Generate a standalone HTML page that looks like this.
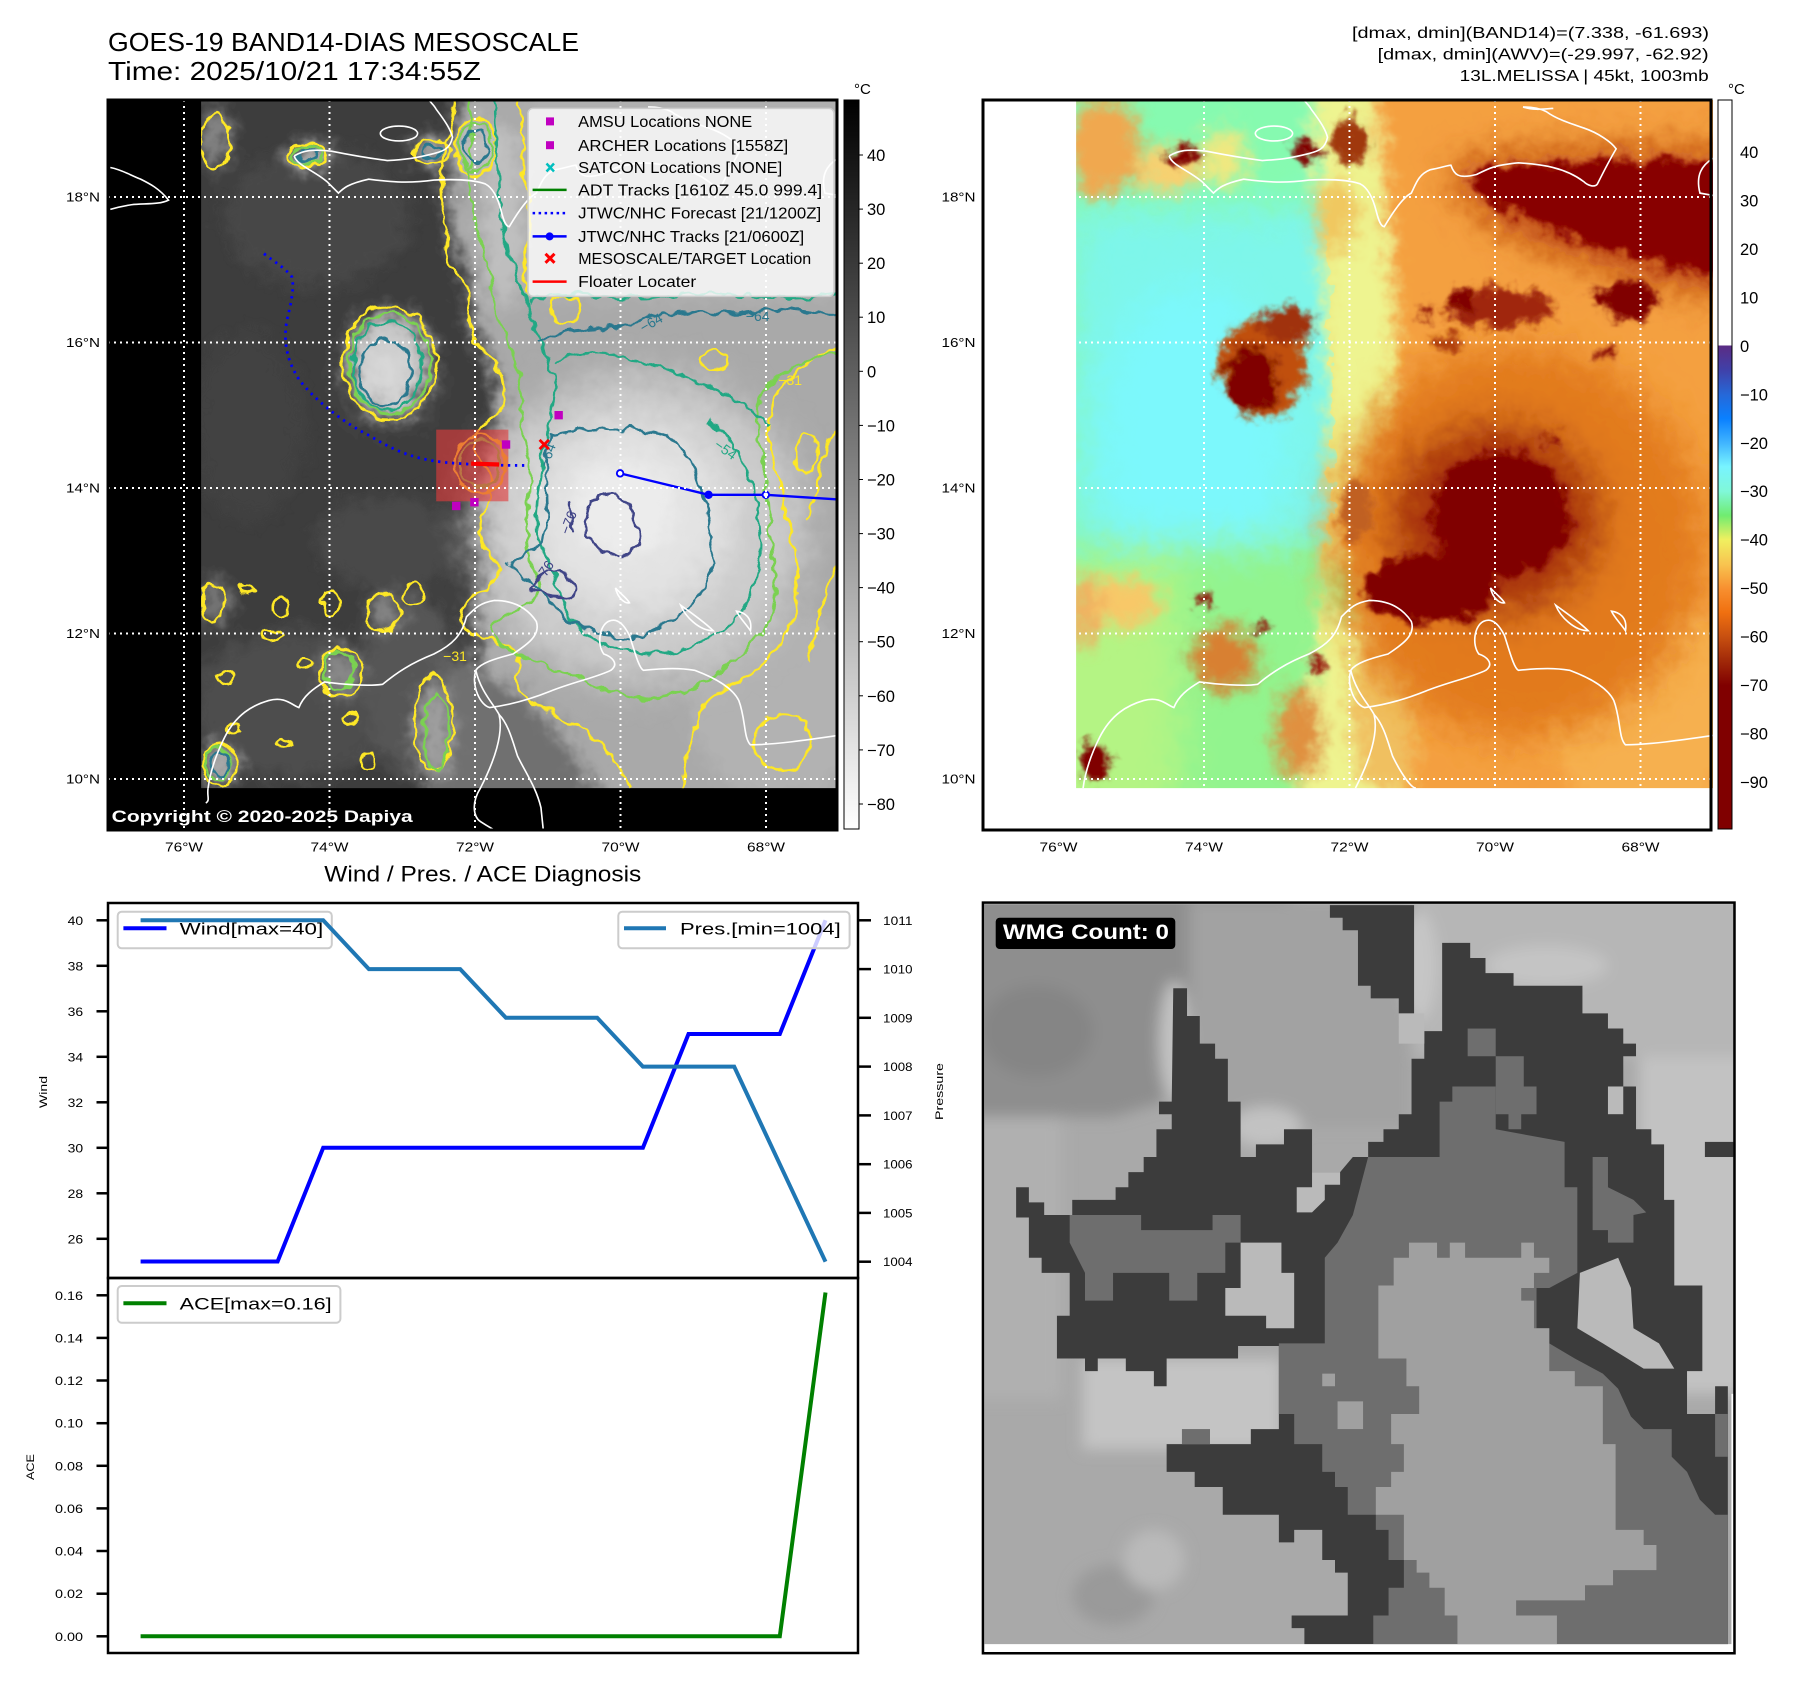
<!DOCTYPE html>
<html><head><meta charset="utf-8">
<style>
body{margin:0;background:#fff}
svg{display:block}
text{font-family:"Liberation Sans","DejaVu Sans",sans-serif;fill:#000}
</style></head>
<body>
<svg xmlns="http://www.w3.org/2000/svg" width="1801" height="1690" viewBox="0 0 1801 1690">
<defs>
  <clipPath id="cData"><rect x="200" y="0" width="1368" height="1478"/></clipPath>
  <clipPath id="cFrame"><rect x="0" y="0" width="1568" height="1568"/></clipPath>
  <clipPath id="cWmg"><path d="M48,28 L1516,28 L1516,1000 L1512,1000 L1512,1497 L48,1497 Z"/></clipPath>
  <filter id="bS" x="-20%" y="-20%" width="140%" height="140%"><feGaussianBlur stdDeviation="8"/></filter>
  <filter id="bM" x="-30%" y="-30%" width="160%" height="160%"><feGaussianBlur stdDeviation="18"/></filter>
  <filter id="bL" x="-40%" y="-40%" width="180%" height="180%"><feGaussianBlur stdDeviation="40"/></filter>
  <filter id="bW" x="-5%" y="-5%" width="110%" height="110%"><feGaussianBlur stdDeviation="14"/></filter>
  <filter id="wig" x="-10%" y="-10%" width="120%" height="120%">
    <feTurbulence type="fractalNoise" baseFrequency="0.035" numOctaves="2" seed="7" result="n"/>
    <feDisplacementMap in="SourceGraphic" in2="n" scale="24" xChannelSelector="R" yChannelSelector="G"/>
  </filter>
  <filter id="mottle" x="-5%" y="-5%" width="110%" height="110%">
    <feTurbulence type="fractalNoise" baseFrequency="0.028" numOctaves="3" seed="3" result="n"/>
    <feDisplacementMap in="SourceGraphic" in2="n" scale="55" xChannelSelector="R" yChannelSelector="G"/>
  </filter>
  <linearGradient id="gGray" x1="0" y1="0" x2="0" y2="1">
    <stop offset="0" stop-color="#000"/><stop offset="1" stop-color="#fff"/>
  </linearGradient>
  <linearGradient id="gAwv" x1="0" y1="0" x2="0" y2="1">
    <stop offset="0" stop-color="#fff"/><stop offset="0.337" stop-color="#fff"/>
    <stop offset="0.337" stop-color="#5b2c84"/><stop offset="0.37" stop-color="#4040a8"/>
    <stop offset="0.404" stop-color="#2668d8"/><stop offset="0.437" stop-color="#0a80ff"/>
    <stop offset="0.47" stop-color="#40b4ff"/><stop offset="0.503" stop-color="#78f4ff"/>
    <stop offset="0.537" stop-color="#80f8d8"/><stop offset="0.57" stop-color="#70ec70"/>
    <stop offset="0.603" stop-color="#f0f060"/><stop offset="0.637" stop-color="#f8c450"/>
    <stop offset="0.67" stop-color="#f89030"/><stop offset="0.703" stop-color="#f07010"/>
    <stop offset="0.736" stop-color="#c85010"/><stop offset="0.77" stop-color="#a02808"/>
    <stop offset="0.803" stop-color="#800000"/><stop offset="1" stop-color="#800000"/>
  </linearGradient>
</defs>
<rect width="1801" height="1690" fill="#fff"/>

<!-- ===== Titles ===== -->
<text x="108" y="51" font-size="26" textLength="471" lengthAdjust="spacingAndGlyphs">GOES-19 BAND14-DIAS MESOSCALE</text>
<text x="108" y="80" font-size="26" textLength="373" lengthAdjust="spacingAndGlyphs">Time: 2025/10/21 17:34:55Z</text>
<text x="1352" y="38" font-size="16" textLength="357" lengthAdjust="spacingAndGlyphs">[dmax, dmin](BAND14)=(7.338, -61.693)</text>
<text x="1377.6" y="59.5" font-size="16" textLength="331" lengthAdjust="spacingAndGlyphs">[dmax, dmin](AWV)=(-29.997, -62.92)</text>
<text x="1459.7" y="81" font-size="16" textLength="249" lengthAdjust="spacingAndGlyphs">13L.MELISSA | 45kt, 1003mb</text>

<!-- ===== LEFT MAP (grayscale) ===== -->
<g transform="translate(108 100) scale(0.46555)">
  <rect x="0" y="0" width="1568" height="1568" fill="#000"/>
  <g clip-path="url(#cData)">
    <g filter="url(#mottle)">
    <rect x="100" y="-100" width="1600" height="1700" fill="#3d3d3d"/>
    <g filter="url(#bM)">
      <ellipse cx="450" cy="250" rx="200" ry="150" fill="#474747"/>
      <ellipse cx="300" cy="700" rx="120" ry="200" fill="#434343"/>
      <ellipse cx="600" cy="950" rx="150" ry="100" fill="#4a4a4a"/>
      <ellipse cx="400" cy="1300" rx="220" ry="160" fill="#4e4e4e"/>
      <ellipse cx="650" cy="1250" rx="100" ry="200" fill="#575757"/>
      <path d="M760,-100 L1700,-100 L1700,1600 L1000,1600 L1000,1478 C950,1400 900,1330 850,1300 C800,1280 780,1200 800,1150 C760,1100 800,1050 850,1000 C830,900 800,850 820,760 C850,680 840,600 800,520 C770,450 780,380 740,300 C720,220 730,100 760,0 Z" fill="#a9a9a9"/>
      <path d="M720,1200 C850,1230 950,1300 1050,1478 L1050,1600 L680,1600 L680,1478 Z" fill="#707070"/>
      <rect x="900" y="-100" width="800" height="530" fill="#b0b0b0"/>
      <ellipse cx="1450" cy="1300" rx="200" ry="200" fill="#b2b2b2"/>
      <ellipse cx="605" cy="565" rx="85" ry="110" fill="#c4c4c4"/>
      <ellipse cx="430" cy="118" rx="38" ry="22" fill="#c8c8c8"/>
      <ellipse cx="695" cy="110" rx="38" ry="22" fill="#c8c8c8"/>
      <ellipse cx="790" cy="100" rx="40" ry="55" fill="#c0c0c0"/>
      <ellipse cx="230" cy="80" rx="30" ry="70" fill="#8a8a8a"/>
      <ellipse cx="240" cy="1430" rx="30" ry="40" fill="#b8b8b8"/>
      <ellipse cx="700" cy="1360" rx="35" ry="100" fill="#a0a0a0"/>
      <ellipse cx="500" cy="1230" rx="40" ry="45" fill="#8a8a8a"/>
      <ellipse cx="595" cy="1100" rx="30" ry="40" fill="#8a8a8a"/>
      <ellipse cx="230" cy="1080" rx="30" ry="50" fill="#7a7a7a"/>
      <ellipse cx="850" cy="250" rx="40" ry="200" fill="#c0c0c0"/>
    </g>
    <g filter="url(#bL)">
      <ellipse cx="1140" cy="920" rx="360" ry="330" fill="#cbcbcb"/>
      <ellipse cx="1120" cy="900" rx="220" ry="210" fill="#e3e3e3"/>
      <ellipse cx="600" cy="590" rx="55" ry="65" fill="#e0e0e0"/>
    </g>
    <ellipse cx="1110" cy="880" rx="110" ry="100" fill="#ececec" filter="url(#bM)"/>
    </g>
    <!-- contours -->
    <g filter="url(#wig)" fill="none" stroke-width="5.5">
      <g stroke="#fde725">
        <path d="M745,0 C740,80 700,150 720,230 C740,300 700,330 760,380 C790,420 760,470 790,520 C830,560 860,600 850,650 C840,690 760,700 790,760 C820,800 830,830 810,880 C790,920 800,960 830,990 C870,1020 800,1050 770,1080 C740,1110 760,1150 820,1160 C870,1170 900,1200 880,1230 C860,1270 920,1300 980,1330 C1060,1370 1100,1420 1120,1478"/>
        <path d="M1568,530 C1500,560 1450,600 1430,650 C1400,720 1440,780 1450,860 C1470,950 1500,1040 1468,1120 C1440,1180 1400,1230 1330,1260 C1260,1290 1250,1380 1230,1478"/>
        <path d="M880,0 C900,60 880,120 900,200 C920,280 880,340 900,420"/>
        <path d="M1568,700 C1520,760 1540,820 1500,900 M1568,1000 C1530,1050 1540,1120 1500,1200"/>
        <ellipse cx="605" cy="565" rx="100" ry="122"/>
        <ellipse cx="430" cy="118" rx="40" ry="26"/>
        <ellipse cx="695" cy="110" rx="40" ry="25"/>
        <ellipse cx="790" cy="100" rx="44" ry="62"/>
        <ellipse cx="230" cy="90" rx="30" ry="60"/>
        <ellipse cx="980" cy="450" rx="30" ry="30"/>
        <ellipse cx="800" cy="780" rx="55" ry="62"/>
        <ellipse cx="225" cy="1080" rx="25" ry="40"/>
        <ellipse cx="250" cy="1240" rx="20" ry="15"/>
        <ellipse cx="370" cy="1090" rx="15" ry="20"/>
        <ellipse cx="480" cy="1080" rx="20" ry="25"/>
        <ellipse cx="590" cy="1100" rx="35" ry="42"/>
        <ellipse cx="500" cy="1230" rx="45" ry="52"/>
        <ellipse cx="700" cy="1340" rx="40" ry="105"/>
        <ellipse cx="240" cy="1430" rx="35" ry="45"/>
        <ellipse cx="520" cy="1330" rx="20" ry="12"/>
        <ellipse cx="350" cy="1150" rx="25" ry="12"/>
        <ellipse cx="420" cy="1210" rx="15" ry="10"/>
        <ellipse cx="300" cy="1050" rx="15" ry="10"/>
        <ellipse cx="655" cy="1060" rx="18" ry="22"/>
        <ellipse cx="270" cy="1350" rx="14" ry="10"/>
        <ellipse cx="380" cy="1380" rx="12" ry="10"/>
        <ellipse cx="560" cy="1420" rx="15" ry="20"/>
        <ellipse cx="1450" cy="1380" rx="60" ry="60"/>
        <ellipse cx="1300" cy="560" rx="30" ry="20"/>
        <ellipse cx="1500" cy="760" rx="25" ry="40"/>
      </g>
      <g stroke="#7ad151">
        <path d="M775,0 C790,100 760,200 800,300 C830,380 820,450 860,520 C900,600 880,700 900,760 C920,850 880,950 920,1020 C950,1080 860,1100 830,1120 C800,1150 880,1200 950,1220 C1050,1250 1100,1300 1200,1280 C1300,1260 1350,1200 1400,1150 C1460,1080 1420,980 1420,900 C1420,800 1380,700 1400,640 C1430,580 1500,560 1568,540"/>
        <ellipse cx="605" cy="565" rx="88" ry="108"/>
        <ellipse cx="495" cy="1225" rx="32" ry="40"/>
        <ellipse cx="705" cy="1360" rx="25" ry="85"/>
        <ellipse cx="235" cy="1425" rx="25" ry="35"/>
        <ellipse cx="800" cy="780" rx="45" ry="50"/>
        <ellipse cx="430" cy="118" rx="32" ry="20"/>
        <ellipse cx="790" cy="100" rx="36" ry="52"/>
      </g>
      <g stroke="#22a884">
        <path d="M830,0 C840,120 830,250 870,360 C900,440 920,500 950,580 C980,640 940,700 935,760 C930,830 900,920 940,980 C980,1040 960,1100 1040,1160 C1120,1200 1240,1200 1320,1140 C1400,1080 1410,980 1395,880 C1380,790 1340,720 1290,690"/>
        <path d="M960,560 C1050,520 1150,560 1250,600 C1320,630 1380,650 1420,700"/>
        <path d="M900,430 C1000,400 1100,440 1200,420 C1300,400 1400,440 1568,420"/>
        <ellipse cx="600" cy="570" rx="75" ry="95"/>
      </g>
      <g stroke="#2a788e">
        <path d="M950,720 C1000,710 1100,695 1200,720 C1260,760 1290,860 1300,960 C1300,1060 1250,1100 1150,1150 C1070,1165 990,1130 950,1080 C920,1040 880,1020 860,1000 C900,980 950,950 945,880 C940,820 940,760 950,720 Z"/>
        <path d="M920,520 C1000,480 1080,500 1150,470 C1250,440 1330,470 1420,450 C1480,440 1530,470 1568,460"/>
        <ellipse cx="595" cy="585" rx="55" ry="70"/>
        <ellipse cx="430" cy="118" rx="22" ry="14"/>
        <ellipse cx="695" cy="110" rx="22" ry="12"/>
        <ellipse cx="790" cy="100" rx="25" ry="35"/>
        <ellipse cx="240" cy="1425" rx="18" ry="25"/>
      </g>
      <g stroke="#414487">
        <path d="M1040,860 C1080,840 1110,850 1120,880 C1140,920 1160,960 1120,975 C1080,980 1040,970 1030,940 C1020,910 1030,880 1040,860 Z"/>
        <path d="M905,1050 C930,1010 960,1000 980,1020 C1000,1040 1020,1060 990,1065 C960,1070 930,1060 905,1050 Z"/>
        <path d="M990,860 C995,880 990,910 1000,930"/>
      </g>
    </g>
    <g font-size="30">
      <text x="1370" y="475" style="fill:#2a788e">−64</text>
      <text x="1150" y="500" style="fill:#2a788e" transform="rotate(-30 1150 500)">−64</text>
      <text x="1300" y="745" style="fill:#22a884" transform="rotate(35 1300 745)">−54</text>
      <text x="990" y="935" style="fill:#414487" transform="rotate(-70 990 935)">−76</text>
      <text x="930" y="1040" style="fill:#414487" transform="rotate(-55 930 1040)">−76</text>
      <text x="945" y="790" style="fill:#2a788e" transform="rotate(-70 945 790)">−64</text>
      <text x="1440" y="612" style="fill:#fde725">−31</text>
      <text x="720" y="1205" style="fill:#fde725">−31</text>
    </g>
  </g>
  <!-- coastlines -->
  <g clip-path="url(#cFrame)" fill="none" stroke="#fff" stroke-width="3.5">
    <path d="M5,145 C30,150 45,160 70,170 C90,180 110,190 130,215 C110,225 80,222 50,225 C30,228 15,232 5,235"/>
    <path d="M400,120 C405,140 440,150 470,175 C480,185 490,195 495,200 C505,190 515,180 560,170 C600,175 640,180 700,172 C740,170 780,170 810,180 C830,190 840,220 845,240 C850,260 855,272 862,272 C875,250 900,210 920,200 C930,180 935,160 960,150 C985,145 1000,140 1005,140 C1012,160 1020,170 1060,160 C1090,145 1100,140 1150,135 C1200,138 1250,145 1290,175 C1300,185 1315,188 1320,180 C1330,160 1345,130 1360,105 C1350,90 1320,70 1290,60 C1260,50 1230,40 1210,25 C1190,15 1170,15 1160,15"/>
    <path d="M400,120 C420,108 440,105 480,110 C520,118 560,125 600,130 C640,128 660,125 700,115 C720,110 735,105 740,80 C735,60 720,40 705,20 C700,10 692,5 690,0"/>
    <ellipse cx="625" cy="72" rx="40" ry="16"/>
    <path d="M1568,125 C1545,140 1530,160 1540,200 L1568,205"/>
    <path d="M215,1478 C220,1440 235,1400 250,1370 C275,1320 310,1300 345,1290 C380,1280 395,1300 410,1305 C420,1280 440,1265 465,1250 C500,1255 560,1260 590,1255 C620,1230 650,1210 700,1190 C740,1170 760,1150 770,1110 C790,1090 800,1080 830,1075 C870,1075 900,1090 920,1120 C930,1150 900,1170 870,1190 C830,1200 800,1210 790,1225 C780,1260 800,1300 820,1305 C860,1300 900,1290 950,1270 C1000,1250 1050,1240 1080,1225 C1100,1210 1080,1195 1065,1190 C1050,1170 1055,1130 1075,1120 C1095,1110 1110,1130 1120,1150 C1130,1180 1140,1220 1150,1225 C1200,1220 1230,1220 1260,1225 C1300,1240 1340,1260 1355,1290 C1370,1330 1365,1370 1380,1385 C1430,1385 1500,1375 1568,1365"/>
    <path d="M215,1478 C212,1495 220,1505 210,1510"/>
    <path d="M790,1225 C800,1270 830,1300 840,1320 C850,1360 830,1420 800,1478 C780,1510 785,1540 800,1550 C815,1560 825,1565 830,1568"/>
    <path d="M840,1320 C860,1340 870,1380 880,1410 C900,1450 920,1478 930,1520 L935,1568"/>
    <path d="M1090,1048 C1100,1060 1115,1070 1120,1080 C1110,1082 1095,1070 1090,1048 Z"/>
    <path d="M1230,1085 C1250,1100 1280,1120 1300,1140 C1270,1140 1240,1110 1230,1085 Z"/>
    <path d="M1350,1098 C1365,1100 1385,1110 1380,1140 C1370,1125 1355,1110 1350,1098 Z"/>
    <path d="M1330,1145 l6,4"/>
  </g>
  <!-- tracks -->
  <rect x="705" y="708" width="155" height="154" fill="rgba(225,60,60,0.62)"/>
  <path d="M335,330 C360,350 380,360 395,380 C400,400 395,430 385,470 C375,520 385,560 410,600 C440,640 500,690 560,720 C610,750 650,770 720,778 C780,784 850,785 900,785" fill="none" stroke="#0000ff" stroke-width="6" stroke-dasharray="5 10"/>
  <line x1="780" y1="781" x2="840" y2="783" stroke="#ff0000" stroke-width="9"/>
  <polyline points="1100,802 1290,848 1413,848 1568,858" fill="none" stroke="#0000ff" stroke-width="5"/>
  <circle cx="1100" cy="802" r="7" fill="#fff" stroke="#0000ff" stroke-width="4"/>
  <circle cx="1290" cy="848" r="9" fill="#0000ff"/>
  <circle cx="1413" cy="848" r="7" fill="#fff" stroke="#0000ff" stroke-width="4"/>
  <g stroke="#ff0000" stroke-width="6"><line x1="927" y1="730" x2="947" y2="750"/><line x1="947" y1="730" x2="927" y2="750"/></g>
  <g fill="#c000c0">
    <rect x="959" y="668" width="18" height="18"/>
    <rect x="846" y="731" width="18" height="18"/>
    <rect x="778" y="855" width="18" height="18"/>
    <rect x="739" y="863" width="18" height="18"/>
  </g>
</g>
<!-- left map gridlines -->
<g stroke="#fff" stroke-width="2" stroke-dasharray="2 4" fill="none">
  <line x1="184" y1="100" x2="184" y2="830"/><line x1="329.5" y1="100" x2="329.5" y2="830"/>
  <line x1="475" y1="100" x2="475" y2="830"/><line x1="620.5" y1="100" x2="620.5" y2="830"/>
  <line x1="766" y1="100" x2="766" y2="830"/>
  <line x1="108" y1="197" x2="837" y2="197"/><line x1="108" y1="342.5" x2="837" y2="342.5"/>
  <line x1="108" y1="488" x2="837" y2="488"/><line x1="108" y1="633.5" x2="837" y2="633.5"/>
  <line x1="108" y1="779" x2="837" y2="779"/>
</g>
<!-- left map legend -->
<rect x="528" y="108.4" width="306" height="188" rx="5" fill="rgba(255,255,255,0.8)" stroke="#cccccc" stroke-width="1.5"/>
<g font-size="16">
  <rect x="546" y="117.4" width="8" height="8" fill="#c000c0"/>
  <text x="578.2" y="127" textLength="174" lengthAdjust="spacingAndGlyphs">AMSU Locations NONE</text>
  <rect x="546" y="141.2" width="8" height="8" fill="#c000c0"/>
  <text x="578.2" y="150.8" textLength="210" lengthAdjust="spacingAndGlyphs">ARCHER Locations [1558Z]</text>
  <g stroke="#00bfbf" stroke-width="2.5"><line x1="546.5" y1="163.5" x2="554" y2="171.5"/><line x1="554" y1="163.5" x2="546.5" y2="171.5"/></g>
  <text x="578.2" y="173.1" textLength="204" lengthAdjust="spacingAndGlyphs">SATCON Locations [NONE]</text>
  <line x1="532.6" y1="189.9" x2="566.6" y2="189.9" stroke="#008000" stroke-width="2.5"/>
  <text x="578.2" y="195.5" textLength="244" lengthAdjust="spacingAndGlyphs">ADT Tracks [1610Z 45.0 999.4]</text>
  <line x1="532.6" y1="213.1" x2="566.6" y2="213.1" stroke="#0000ff" stroke-width="2.5" stroke-dasharray="2.5 3.5"/>
  <text x="578.2" y="218.7" textLength="243" lengthAdjust="spacingAndGlyphs">JTWC/NHC Forecast [21/1200Z]</text>
  <line x1="532.6" y1="236.4" x2="566.6" y2="236.4" stroke="#0000ff" stroke-width="2.5"/>
  <circle cx="549.6" cy="236.4" r="4" fill="#0000ff"/>
  <text x="578.2" y="242" textLength="226" lengthAdjust="spacingAndGlyphs">JTWC/NHC Tracks [21/0600Z]</text>
  <g stroke="#ff0000" stroke-width="3"><line x1="545.5" y1="253.8" x2="554.5" y2="262.8"/><line x1="554.5" y1="253.8" x2="545.5" y2="262.8"/></g>
  <text x="578.2" y="263.9" textLength="233" lengthAdjust="spacingAndGlyphs">MESOSCALE/TARGET Location</text>
  <line x1="532.6" y1="281.6" x2="566.6" y2="281.6" stroke="#ff0000" stroke-width="2.5"/>
  <text x="578.2" y="287.2" textLength="118" lengthAdjust="spacingAndGlyphs">Floater Locater</text>
</g>
<text x="111.7" y="822" font-size="17" font-weight="bold" style="fill:#fff" textLength="301" lengthAdjust="spacingAndGlyphs">Copyright © 2020-2025 Dapiya</text>
<rect x="108" y="100" width="729" height="730" fill="none" stroke="#000" stroke-width="3"/>

<!-- left colorbar -->
<rect x="844" y="100" width="15" height="729" fill="url(#gGray)" stroke="#000" stroke-width="1"/>
<text x="854" y="94" font-size="15">°C</text>
<g font-size="16.5">
  <text x="867" y="161">40</text><text x="867" y="215.1">30</text><text x="867" y="269.2">20</text>
  <text x="867" y="323.2">10</text><text x="867" y="377.3">0</text><text x="867" y="431.4">−10</text>
  <text x="867" y="485.5">−20</text><text x="867" y="539.6">−30</text><text x="867" y="593.6">−40</text>
  <text x="867" y="647.7">−50</text><text x="867" y="701.8">−60</text><text x="867" y="755.9">−70</text>
  <text x="867" y="810">−80</text>
</g>
<g stroke="#000" stroke-width="1">
  <line x1="859" y1="155" x2="863" y2="155"/><line x1="859" y1="209.1" x2="863" y2="209.1"/><line x1="859" y1="263.2" x2="863" y2="263.2"/>
  <line x1="859" y1="317.2" x2="863" y2="317.2"/><line x1="859" y1="371.3" x2="863" y2="371.3"/><line x1="859" y1="425.4" x2="863" y2="425.4"/>
  <line x1="859" y1="479.5" x2="863" y2="479.5"/><line x1="859" y1="533.6" x2="863" y2="533.6"/><line x1="859" y1="587.6" x2="863" y2="587.6"/>
  <line x1="859" y1="641.7" x2="863" y2="641.7"/><line x1="859" y1="695.8" x2="863" y2="695.8"/><line x1="859" y1="749.9" x2="863" y2="749.9"/>
  <line x1="859" y1="804" x2="863" y2="804"/>
</g>
<!-- left map axis labels -->
<g font-size="13">
  <text x="66" y="201.5" textLength="34" lengthAdjust="spacingAndGlyphs">18°N</text>
  <text x="66" y="347" textLength="34" lengthAdjust="spacingAndGlyphs">16°N</text>
  <text x="66" y="492.5" textLength="34" lengthAdjust="spacingAndGlyphs">14°N</text>
  <text x="66" y="638" textLength="34" lengthAdjust="spacingAndGlyphs">12°N</text>
  <text x="66" y="783.5" textLength="34" lengthAdjust="spacingAndGlyphs">10°N</text>
  <text x="165" y="851.5" textLength="38" lengthAdjust="spacingAndGlyphs">76°W</text>
  <text x="310.5" y="851.5" textLength="38" lengthAdjust="spacingAndGlyphs">74°W</text>
  <text x="456" y="851.5" textLength="38" lengthAdjust="spacingAndGlyphs">72°W</text>
  <text x="601.5" y="851.5" textLength="38" lengthAdjust="spacingAndGlyphs">70°W</text>
  <text x="747" y="851.5" textLength="38" lengthAdjust="spacingAndGlyphs">68°W</text>
</g>

<!-- ===== RIGHT MAP (AWV colour) ===== -->
<g transform="translate(983 100) scale(0.46555)">
  <rect x="0" y="0" width="1568" height="1568" fill="#fff"/>
  <g clip-path="url(#cData)">
    <g filter="url(#mottle)">
    <rect x="100" y="-100" width="1600" height="1700" fill="#7ef6ea"/>
    <path d="M730,-100 L1700,-100 L1700,1600 L660,1600 C720,1200 740,1000 750,800 C760,600 730,300 730,-100 Z" fill="#f0de72"/>
    <g filter="url(#bL)">
      <ellipse cx="450" cy="720" rx="200" ry="330" fill="#7cf8fc"/>
      <rect x="100" y="-100" width="650" height="330" fill="#86fab0"/>
      <path d="M100,950 L780,950 L760,1600 L100,1600 Z" fill="#92f48e"/>
      <path d="M100,1000 L420,1000 L420,1600 L100,1600 Z" fill="#b4f484"/>
      <rect x="100" y="200" width="90" height="800" fill="#88f8b0"/>
    </g>
    <g filter="url(#bM)">
      <path d="M700,-100 L880,-100 C860,300 880,500 880,700 C880,900 860,1000 860,1100 L900,1600 L660,1600 C720,1200 735,1000 745,800 C755,600 720,300 700,-100 Z" fill="#eef490"/>
      <path d="M840,-100 L1700,-100 L1700,1600 L930,1600 C900,1350 890,1250 880,1150 C870,1000 870,800 890,600 C890,400 850,200 840,-100 Z" fill="#f4a040"/>
      <ellipse cx="1420" cy="1300" rx="220" ry="240" fill="#f6b050"/>
      <ellipse cx="260" cy="100" rx="80" ry="110" fill="#f0a850"/>
      <ellipse cx="400" cy="150" rx="70" ry="50" fill="#f8d070"/>
      <ellipse cx="520" cy="120" rx="50" ry="60" fill="#f0e880"/>
      <ellipse cx="300" cy="1080" rx="80" ry="50" fill="#f8c868"/>
      <ellipse cx="520" cy="1200" rx="70" ry="70" fill="#d88030"/>
      <ellipse cx="680" cy="1360" rx="50" ry="100" fill="#e09040"/>
      <ellipse cx="220" cy="1100" rx="30" ry="80" fill="#f0b060"/>
      <ellipse cx="820" cy="900" rx="50" ry="80" fill="#e89040"/>
      <ellipse cx="860" cy="1300" rx="70" ry="200" fill="#f0c060"/>
      <ellipse cx="760" cy="250" rx="50" ry="80" fill="#f0c860"/>
      <ellipse cx="780" cy="1050" rx="40" ry="60" fill="#a8f088"/>
    </g>
    <g filter="url(#bL)">
      <ellipse cx="1150" cy="950" rx="400" ry="420" fill="#e27a1c"/>
      <ellipse cx="1100" cy="900" rx="230" ry="210" fill="#a83008"/>
      <path d="M1000,150 C1100,110 1300,110 1700,110 L1700,430 C1450,400 1300,350 1150,290 C1080,250 1030,210 1000,150 Z" fill="#b84010"/>
    </g>
    <g filter="url(#bS)">
      <ellipse cx="1110" cy="890" rx="150" ry="135" fill="#800000"/>
      <ellipse cx="960" cy="1050" rx="140" ry="75" fill="#800000"/>
      <path d="M1040,160 C1120,130 1300,130 1700,130 L1700,390 C1470,370 1330,320 1180,260 C1100,225 1060,200 1040,160 Z" fill="#880400"/>
      <ellipse cx="1390" cy="430" rx="60" ry="42" fill="#800000"/>
      <circle cx="1325" cy="428" r="20" fill="#800000"/>
      <ellipse cx="1110" cy="445" rx="120" ry="42" fill="#a02808"/>
      <ellipse cx="1030" cy="432" rx="30" ry="25" fill="#800000"/>
      <circle cx="950" cy="455" r="13" fill="#800000"/>
      <circle cx="1340" cy="545" r="15" fill="#800000"/>
      <circle cx="1220" cy="730" r="12" fill="#800000"/>
      <ellipse cx="1000" cy="520" rx="30" ry="20" fill="#b04010"/>
      <ellipse cx="600" cy="575" rx="95" ry="105" fill="#c05010"/>
      <ellipse cx="578" cy="600" rx="62" ry="68" fill="#800000"/>
      <ellipse cx="655" cy="482" rx="58" ry="36" fill="#a03010"/>
      <ellipse cx="428" cy="118" rx="32" ry="20" fill="#800000"/>
      <ellipse cx="695" cy="110" rx="36" ry="18" fill="#800000"/>
      <ellipse cx="790" cy="90" rx="40" ry="50" fill="#a03808"/>
      <ellipse cx="240" cy="1420" rx="30" ry="38" fill="#800000"/>
      <circle cx="470" cy="1075" r="15" fill="#900000"/>
      <circle cx="595" cy="1135" r="12" fill="#900000"/>
      <circle cx="720" cy="1210" r="15" fill="#900000"/>
      <ellipse cx="800" cy="880" rx="35" ry="60" fill="#c06020"/>
    </g>
    </g>
  </g>
  <g fill="none" stroke="#fff" stroke-width="3.5">
    <path d="M400,120 C405,140 440,150 470,175 C480,185 490,195 495,200 C505,190 515,180 560,170 C600,175 640,180 700,172 C740,170 780,170 810,180 C830,190 840,220 845,240 C850,260 855,272 862,272 C875,250 900,210 920,200 C930,180 935,160 960,150 C985,145 1000,140 1005,140 C1012,160 1020,170 1060,160 C1090,145 1100,140 1150,135 C1200,138 1250,145 1290,175 C1300,185 1315,188 1320,180 C1330,160 1345,130 1360,105 C1350,90 1320,70 1290,60 C1260,50 1230,40 1210,25 C1190,15 1170,15 1160,15"/>
    <path d="M400,120 C420,108 440,105 480,110 C520,118 560,125 600,130 C640,128 660,125 700,115 C720,110 735,105 740,80 C735,60 720,40 705,20 C700,10 692,5 690,0"/>
    <ellipse cx="625" cy="72" rx="40" ry="16"/>
    <path d="M1568,125 C1545,140 1530,160 1540,200 L1568,205"/>
    <path d="M215,1478 C220,1440 235,1400 250,1370 C275,1320 310,1300 345,1290 C380,1280 395,1300 410,1305 C420,1280 440,1265 465,1250 C500,1255 560,1260 590,1255 C620,1230 650,1210 700,1190 C740,1170 760,1150 770,1110 C790,1090 800,1080 830,1075 C870,1075 900,1090 920,1120 C930,1150 900,1170 870,1190 C830,1200 800,1210 790,1225 C780,1260 800,1300 820,1305 C860,1300 900,1290 950,1270 C1000,1250 1050,1240 1080,1225 C1100,1210 1080,1195 1065,1190 C1050,1170 1055,1130 1075,1120 C1095,1110 1110,1130 1120,1150 C1130,1180 1140,1220 1150,1225 C1200,1220 1230,1220 1260,1225 C1300,1240 1340,1260 1355,1290 C1370,1330 1365,1370 1380,1385 C1430,1385 1500,1375 1568,1365"/>
    <path d="M790,1225 C800,1270 830,1300 840,1320 C850,1360 830,1420 800,1478"/>
    <path d="M840,1320 C860,1340 870,1380 880,1410 C900,1450 920,1478 930,1478"/>
    <path d="M1090,1048 C1100,1060 1115,1070 1120,1080 C1110,1082 1095,1070 1090,1048 Z"/>
    <path d="M1230,1085 C1250,1100 1280,1120 1300,1140 C1270,1140 1240,1110 1230,1085 Z"/>
    <path d="M1350,1098 C1365,1100 1385,1110 1380,1140 C1370,1125 1355,1110 1350,1098 Z"/>
    <path d="M1160,15 C1180,22 1200,20 1225,18"/>
  </g>
</g>
<g stroke="#fff" stroke-width="2" stroke-dasharray="2 4" fill="none">
  <line x1="1058.5" y1="100" x2="1058.5" y2="830"/><line x1="1204" y1="100" x2="1204" y2="830"/>
  <line x1="1349.5" y1="100" x2="1349.5" y2="830"/><line x1="1495" y1="100" x2="1495" y2="830"/>
  <line x1="1640.5" y1="100" x2="1640.5" y2="830"/>
  <line x1="983" y1="197" x2="1711" y2="197"/><line x1="983" y1="342.5" x2="1711" y2="342.5"/>
  <line x1="983" y1="488" x2="1711" y2="488"/><line x1="983" y1="633.5" x2="1711" y2="633.5"/>
  <line x1="983" y1="779" x2="1711" y2="779"/>
</g>
<rect x="983" y="100" width="728" height="730" fill="none" stroke="#000" stroke-width="3"/>
<!-- right colorbar -->
<rect x="1718" y="100" width="14" height="729" fill="url(#gAwv)" stroke="#000" stroke-width="1"/>
<text x="1728" y="94" font-size="15">°C</text>
<g font-size="16.5">
  <text x="1740" y="158">40</text><text x="1740" y="206.5">30</text><text x="1740" y="254.9">20</text>
  <text x="1740" y="303.4">10</text><text x="1740" y="351.8">0</text><text x="1740" y="400.3">−10</text>
  <text x="1740" y="448.8">−20</text><text x="1740" y="497.2">−30</text><text x="1740" y="545.7">−40</text>
  <text x="1740" y="594.1">−50</text><text x="1740" y="642.6">−60</text><text x="1740" y="691.1">−70</text>
  <text x="1740" y="739.5">−80</text><text x="1740" y="788">−90</text>
</g>
<g font-size="13">
  <text x="941.5" y="201.5" textLength="34" lengthAdjust="spacingAndGlyphs">18°N</text>
  <text x="941.5" y="347" textLength="34" lengthAdjust="spacingAndGlyphs">16°N</text>
  <text x="941.5" y="492.5" textLength="34" lengthAdjust="spacingAndGlyphs">14°N</text>
  <text x="941.5" y="638" textLength="34" lengthAdjust="spacingAndGlyphs">12°N</text>
  <text x="941.5" y="783.5" textLength="34" lengthAdjust="spacingAndGlyphs">10°N</text>
  <text x="1039.5" y="851.5" textLength="38" lengthAdjust="spacingAndGlyphs">76°W</text>
  <text x="1185" y="851.5" textLength="38" lengthAdjust="spacingAndGlyphs">74°W</text>
  <text x="1330.5" y="851.5" textLength="38" lengthAdjust="spacingAndGlyphs">72°W</text>
  <text x="1476" y="851.5" textLength="38" lengthAdjust="spacingAndGlyphs">70°W</text>
  <text x="1621.5" y="851.5" textLength="38" lengthAdjust="spacingAndGlyphs">68°W</text>
</g>

<!-- ===== BOTTOM-LEFT: Wind / Pres / ACE ===== -->
<text x="324.3" y="881.5" font-size="22.5" textLength="317" lengthAdjust="spacingAndGlyphs">Wind / Pres. / ACE Diagnosis</text>
<polyline points="140.6,1261.5 277.6,1261.5 323.2,1147.8 642.9,1147.8 688.5,1034 779.8,1034 825.5,920.3" fill="none" stroke="#0000ff" stroke-width="4"/>
<rect x="117.7" y="911.7" width="214.1" height="36.6" rx="4" fill="rgba(255,255,255,0.8)" stroke="#cccccc" stroke-width="2"/>
<line x1="123.4" y1="928.3" x2="166.5" y2="928.3" stroke="#0000ff" stroke-width="4"/>
<text x="179.7" y="934.5" font-size="17" textLength="143.5" lengthAdjust="spacingAndGlyphs">Wind[max=40]</text>
<polyline points="140.6,920.3 323.2,920.3 368.9,969.1 460.2,969.1 505.9,1017.8 597.2,1017.8 642.9,1066.6 734.2,1066.6 779.8,1164.2 825.5,1261.7" fill="none" stroke="#1f77b4" stroke-width="4"/>
<rect x="618.3" y="911.7" width="231.3" height="36.6" rx="4" fill="rgba(255,255,255,0.8)" stroke="#cccccc" stroke-width="2"/>
<line x1="624" y1="928.3" x2="666" y2="928.3" stroke="#1f77b4" stroke-width="4"/>
<text x="680" y="934.5" font-size="17" textLength="160.7" lengthAdjust="spacingAndGlyphs">Pres.[min=1004]</text>
<polyline points="140.6,1636.3 779.8,1636.3 825.5,1292.5" fill="none" stroke="#008000" stroke-width="4"/>
<rect x="117.7" y="1286" width="222.7" height="36.7" rx="4" fill="rgba(255,255,255,0.8)" stroke="#cccccc" stroke-width="2"/>
<line x1="123.4" y1="1303.3" x2="166.5" y2="1303.3" stroke="#008000" stroke-width="4"/>
<text x="179.7" y="1309.5" font-size="17" textLength="152" lengthAdjust="spacingAndGlyphs">ACE[max=0.16]</text>
<rect x="108" y="903" width="750" height="375" fill="none" stroke="#000" stroke-width="2.5"/>
<rect x="108" y="1278" width="750" height="375" fill="none" stroke="#000" stroke-width="2.5"/>
<g stroke="#000" stroke-width="2.5">
  <line x1="96.5" y1="920.3" x2="108" y2="920.3"/><line x1="96.5" y1="965.8" x2="108" y2="965.8"/>
  <line x1="96.5" y1="1011.3" x2="108" y2="1011.3"/><line x1="96.5" y1="1056.8" x2="108" y2="1056.8"/>
  <line x1="96.5" y1="1102.3" x2="108" y2="1102.3"/><line x1="96.5" y1="1147.8" x2="108" y2="1147.8"/>
  <line x1="96.5" y1="1193.3" x2="108" y2="1193.3"/><line x1="96.5" y1="1238.8" x2="108" y2="1238.8"/>
  <line x1="858" y1="920.3" x2="871" y2="920.3"/><line x1="858" y1="969.1" x2="871" y2="969.1"/>
  <line x1="858" y1="1017.8" x2="871" y2="1017.8"/><line x1="858" y1="1066.6" x2="871" y2="1066.6"/>
  <line x1="858" y1="1115.4" x2="871" y2="1115.4"/><line x1="858" y1="1164.2" x2="871" y2="1164.2"/>
  <line x1="858" y1="1212.9" x2="871" y2="1212.9"/><line x1="858" y1="1261.7" x2="871" y2="1261.7"/>
  <line x1="96.5" y1="1295.3" x2="108" y2="1295.3"/><line x1="96.5" y1="1337.9" x2="108" y2="1337.9"/>
  <line x1="96.5" y1="1380.5" x2="108" y2="1380.5"/><line x1="96.5" y1="1423.2" x2="108" y2="1423.2"/>
  <line x1="96.5" y1="1465.8" x2="108" y2="1465.8"/><line x1="96.5" y1="1508.4" x2="108" y2="1508.4"/>
  <line x1="96.5" y1="1551" x2="108" y2="1551"/><line x1="96.5" y1="1593.7" x2="108" y2="1593.7"/>
  <line x1="96.5" y1="1636.3" x2="108" y2="1636.3"/>
</g>
<g font-size="12">
  <text x="67.7" y="924.8" textLength="15.5" lengthAdjust="spacingAndGlyphs">40</text>
  <text x="67.7" y="970.3" textLength="15.5" lengthAdjust="spacingAndGlyphs">38</text>
  <text x="67.7" y="1015.8" textLength="15.5" lengthAdjust="spacingAndGlyphs">36</text>
  <text x="67.7" y="1061.3" textLength="15.5" lengthAdjust="spacingAndGlyphs">34</text>
  <text x="67.7" y="1106.8" textLength="15.5" lengthAdjust="spacingAndGlyphs">32</text>
  <text x="67.7" y="1152.3" textLength="15.5" lengthAdjust="spacingAndGlyphs">30</text>
  <text x="67.7" y="1197.8" textLength="15.5" lengthAdjust="spacingAndGlyphs">28</text>
  <text x="67.7" y="1243.3" textLength="15.5" lengthAdjust="spacingAndGlyphs">26</text>
  <text x="883" y="924.8" textLength="29.5" lengthAdjust="spacingAndGlyphs">1011</text>
  <text x="883" y="973.6" textLength="29.5" lengthAdjust="spacingAndGlyphs">1010</text>
  <text x="883" y="1022.3" textLength="29.5" lengthAdjust="spacingAndGlyphs">1009</text>
  <text x="883" y="1071.1" textLength="29.5" lengthAdjust="spacingAndGlyphs">1008</text>
  <text x="883" y="1119.9" textLength="29.5" lengthAdjust="spacingAndGlyphs">1007</text>
  <text x="883" y="1168.7" textLength="29.5" lengthAdjust="spacingAndGlyphs">1006</text>
  <text x="883" y="1217.4" textLength="29.5" lengthAdjust="spacingAndGlyphs">1005</text>
  <text x="883" y="1266.2" textLength="29.5" lengthAdjust="spacingAndGlyphs">1004</text>
  <text x="55" y="1299.8" textLength="28" lengthAdjust="spacingAndGlyphs">0.16</text>
  <text x="55" y="1342.4" textLength="28" lengthAdjust="spacingAndGlyphs">0.14</text>
  <text x="55" y="1385" textLength="28" lengthAdjust="spacingAndGlyphs">0.12</text>
  <text x="55" y="1427.7" textLength="28" lengthAdjust="spacingAndGlyphs">0.10</text>
  <text x="55" y="1470.3" textLength="28" lengthAdjust="spacingAndGlyphs">0.08</text>
  <text x="55" y="1512.9" textLength="28" lengthAdjust="spacingAndGlyphs">0.06</text>
  <text x="55" y="1555.5" textLength="28" lengthAdjust="spacingAndGlyphs">0.04</text>
  <text x="55" y="1598.2" textLength="28" lengthAdjust="spacingAndGlyphs">0.02</text>
  <text x="55" y="1640.8" textLength="28" lengthAdjust="spacingAndGlyphs">0.00</text>
</g>
<g font-size="11">
  <text transform="translate(47 1108) rotate(-90)" textLength="32" lengthAdjust="spacingAndGlyphs">Wind</text>
  <text transform="translate(943 1120) rotate(-90)" textLength="57" lengthAdjust="spacingAndGlyphs">Pressure</text>
  <text transform="translate(34 1480) rotate(-90)" textLength="26" lengthAdjust="spacingAndGlyphs">ACE</text>
</g>

<!-- ===== BOTTOM-RIGHT: WMG ===== -->
<g transform="translate(960 890) scale(0.5102 0.5038)">
  <rect x="45" y="25" width="1473" height="1490" fill="#fff"/>
  <g clip-path="url(#cWmg)">
    <rect x="40" y="20" width="1480" height="1480" fill="#a9a9a9"/>
    <g filter="url(#bW)">
      <path d="M0,0 L650,0 L640,100 L560,130 L470,200 L420,330 L400,420 L300,450 L0,450 Z" fill="#8e8e8e"/>
      <rect x="450" y="20" width="430" height="450" fill="#a2a2a2"/>
      <rect x="890" y="0" width="700" height="330" fill="#b6b6b6"/>
      <rect x="1330" y="330" width="250" height="670" fill="#c2c2c2"/>
      <rect x="0" y="450" width="200" height="560" fill="#b0b0b0"/>
      <rect x="240" y="930" width="390" height="180" fill="#c4c4c4"/>
      <ellipse cx="300" cy="1400" rx="80" ry="60" fill="#9a9a9a"/>
      <ellipse cx="150" cy="280" rx="110" ry="90" fill="#858585"/>
      <ellipse cx="420" cy="300" rx="30" ry="120" fill="#c2c2c2"/>
      <ellipse cx="900" cy="150" rx="35" ry="110" fill="#c6c6c6"/>
      <ellipse cx="600" cy="470" rx="70" ry="40" fill="#c2c2c2"/>
      <ellipse cx="1150" cy="150" rx="120" ry="40" fill="#c4c4c4"/>
      <ellipse cx="380" cy="1330" rx="60" ry="60" fill="#bababa"/>
    </g>
    <g fill="#3c3c3c">
      <path d="M418,195 L445,195 L445,250 L470,250 L470,305 L500,305 L500,335 L525,335 L525,420 L550,420 L550,530 L580,530 L580,505 L635,505 L635,475 L690,475 L690,560 L745,560 L770,530 L800,530 L800,500 L830,500 L830,475 L860,475 L860,445 L885,445 L885,335 L910,335 L910,280 L945,280 L945,105 L1000,105 L1000,135 L1030,135 L1030,165 L1085,165 L1085,190 L1220,190 L1220,245 L1270,245 L1270,275 L1300,275 L1300,305 L1325,305 L1325,330 L1300,330 L1300,390 L1325,390 L1325,475 L1355,475 L1355,505 L1380,505 L1380,615 L1400,615 L1400,785 L1455,785 L1455,955 L1425,955 L1425,1040 L1480,1040 L1480,985 L1505,985 L1505,1497 L675,1497 L675,1465 L650,1465 L650,1440 L760,1440 L760,1355 L735,1355 L735,1330 L710,1330 L710,1270 L655,1270 L655,1295 L625,1295 L625,1240 L515,1240 L515,1185 L460,1185 L460,1155 L405,1155 L405,1100 L570,1100 L570,1070 L625,1070 L625,905 L545,905 L545,930 L405,930 L405,985 L380,985 L380,955 L325,955 L325,930 L270,930 L270,955 L245,955 L245,930 L190,930 L190,845 L215,845 L215,760 L160,760 L160,730 L135,730 L135,650 L110,650 L110,590 L135,590 L135,620 L165,620 L165,645 L220,645 L220,615 L305,615 L305,590 L330,590 L330,560 L360,560 L360,530 L385,530 L385,475 L415,475 L415,445 L390,445 L390,420 L415,420 Z"/>
      <path d="M725,30 L890,30 L890,245 L860,245 L860,215 L805,215 L805,190 L780,190 L780,80 L750,80 L750,55 L725,55 Z"/>
      <rect x="1460" y="500" width="56" height="30"/>
    </g>
    <g fill="#6e6e6e">
      <path d="M215,645 L355,645 L355,675 L495,675 L495,645 L550,645 L550,700 L520,700 L520,760 L465,760 L465,815 L410,815 L410,760 L300,760 L300,815 L245,815 L245,760 L215,700 Z"/>
      <path d="M800,530 L940,530 L940,420 L965,420 L965,390 L1050,390 L1050,475 L1185,500 L1185,590 L1210,590 L1210,760 L1155,790 L1130,790 L1130,870 L1155,870 L1155,900 L1205,930 L1260,960 L1290,990 L1315,1045 L1340,1070 L1395,1070 L1395,1125 L1425,1155 L1450,1210 L1480,1240 L1505,1240 L1505,1497 L810,1497 L810,1440 L840,1440 L840,1385 L870,1385 L870,1330 L840,1330 L840,1270 L815,1270 L815,1240 L760,1240 L760,1185 L735,1185 L735,1155 L710,1155 L710,1100 L655,1100 L655,1040 L625,1040 L625,900 L715,900 L715,730 L740,700 L770,645 Z"/>
      <rect x="995" y="275" width="55" height="55"/>
      <path d="M1050,330 L1105,330 L1105,390 L1130,390 L1130,445 L1100,445 L1100,475 L1075,475 L1075,445 L1050,445 Z"/>
      <path d="M1240,530 L1270,530 L1270,590 L1320,615 L1345,640 L1320,645 L1320,700 L1270,700 L1270,675 L1240,675 Z"/>
      <rect x="435" y="1070" width="55" height="30"/>
      <rect x="1480" y="1040" width="25" height="85"/>
    </g>
    <g fill="#a0a0a0">
      <path d="M880,700 L935,700 L935,730 L960,730 L960,700 L990,700 L990,730 L1100,730 L1100,700 L1125,700 L1125,730 L1155,730 L1155,760 L1125,760 L1125,790 L1100,790 L1100,815 L1125,815 L1125,870 L1155,870 L1155,955 L1205,955 L1205,985 L1260,985 L1260,1100 L1285,1100 L1285,1270 L1340,1270 L1340,1300 L1365,1300 L1365,1350 L1280,1350 L1280,1380 L1225,1380 L1225,1410 L1090,1410 L1090,1440 L1170,1440 L1170,1497 L975,1497 L975,1440 L950,1440 L950,1385 L920,1385 L920,1355 L895,1355 L895,1330 L870,1330 L870,1240 L815,1240 L815,1185 L845,1185 L845,1155 L870,1155 L870,1100 L845,1100 L845,1040 L900,1040 L900,985 L875,985 L875,930 L820,930 L820,785 L850,785 L850,730 L880,730 Z"/>
      <rect x="740" y="1015" width="50" height="55"/>
      <rect x="710" y="960" width="25" height="25"/>
    </g>
    <g fill="#bababa">
      <path d="M550,700 L630,700 L630,760 L655,760 L655,870 L600,870 L600,845 L520,845 L520,790 L550,790 Z"/>
      <path d="M690,560 L745,560 L745,585 L715,585 L715,615 L690,640 L660,640 L660,590 L690,590 Z"/>
      <path d="M1215,760 L1290,730 L1315,790 L1320,870 L1370,900 L1400,950 L1340,950 L1260,900 L1210,870 Z"/>
      <rect x="1270" y="390" width="30" height="55"/>
      <rect x="860" y="245" width="50" height="60"/>
    </g>
  </g>
  <rect x="45" y="25" width="1473" height="1490" fill="none" stroke="#000" stroke-width="5"/>
</g>
<rect x="995.7" y="917.7" width="179.6" height="31.3" rx="4" fill="#000"/>
<text x="1002.9" y="939" font-size="21" font-weight="bold" style="fill:#fff" textLength="166" lengthAdjust="spacingAndGlyphs">WMG Count: 0</text>
</svg>
</body></html>
